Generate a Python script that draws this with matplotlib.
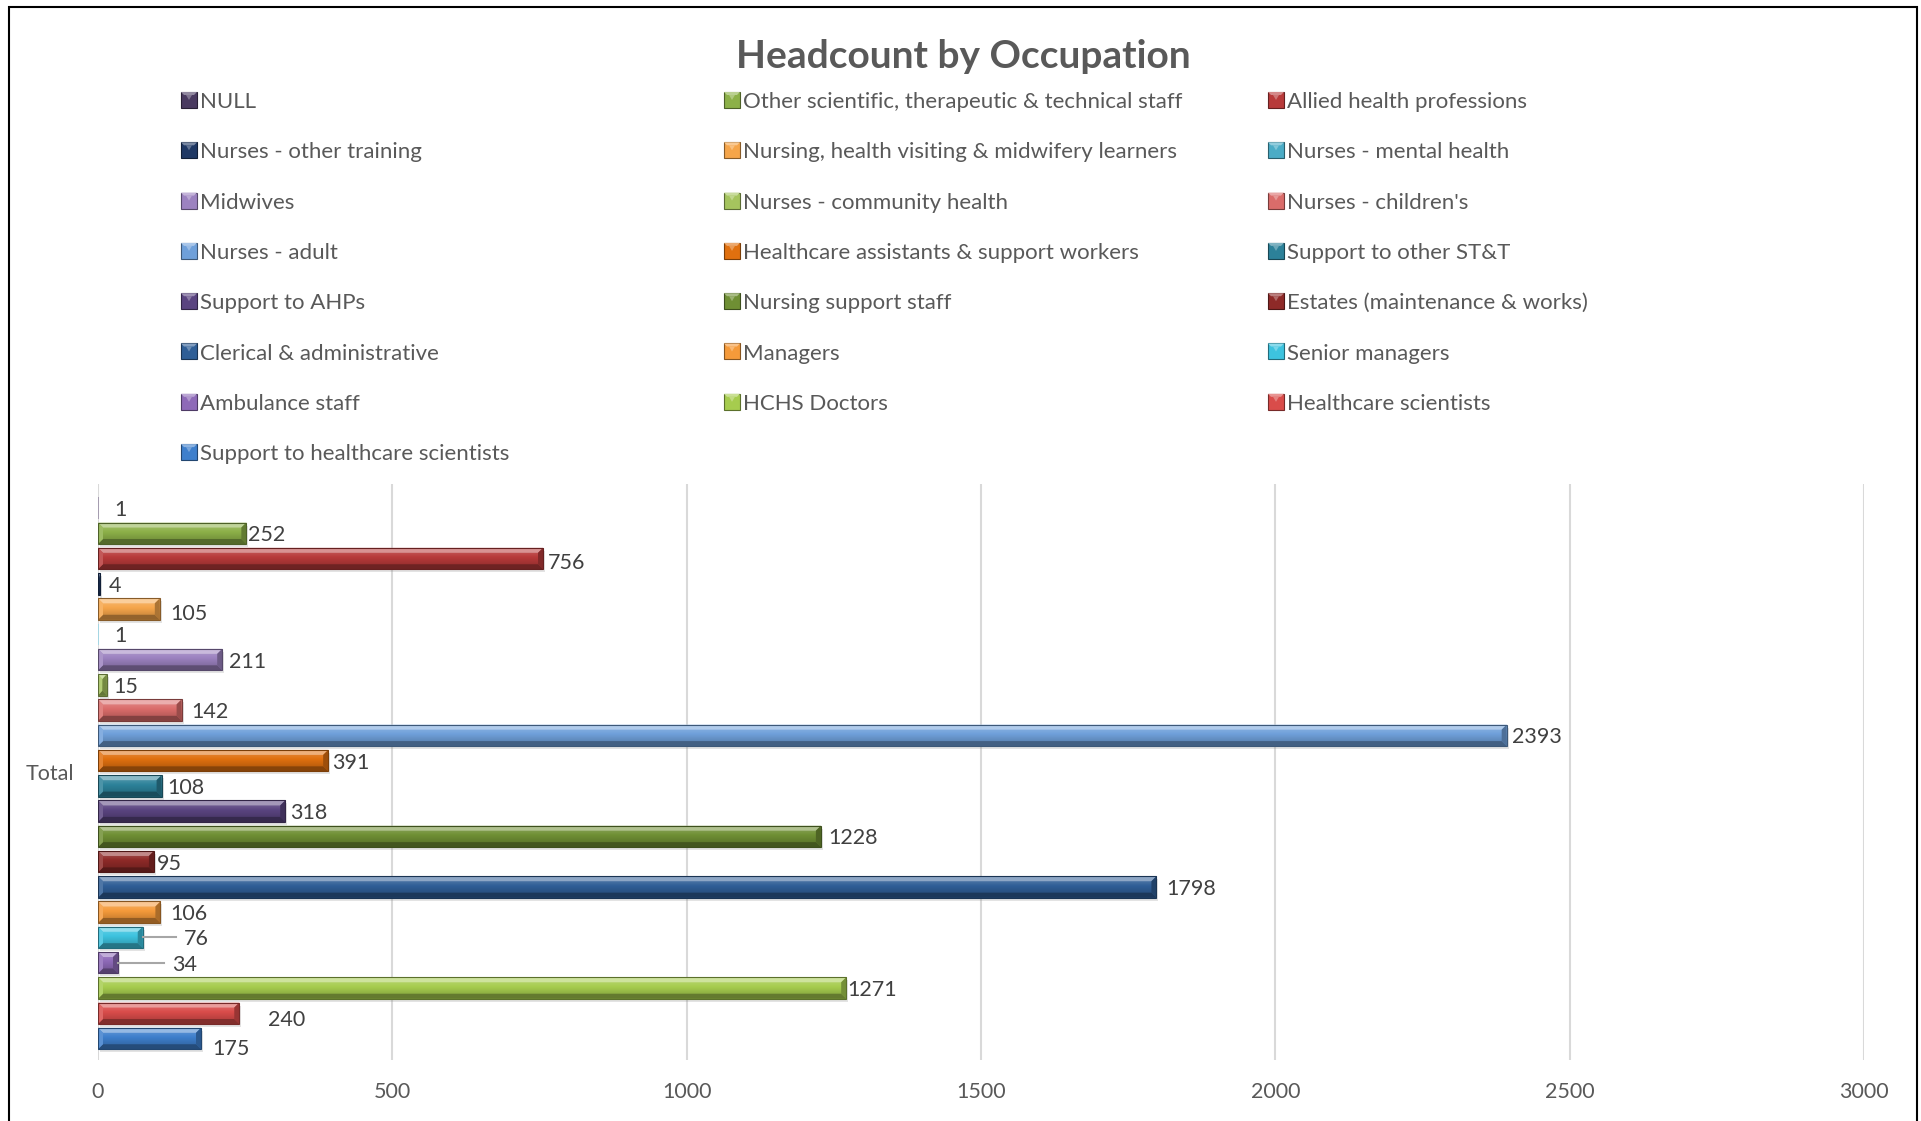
import numpy as np
import matplotlib
matplotlib.use("Agg")
import matplotlib.pyplot as plt
from matplotlib.patches import Rectangle, Polygon
from matplotlib import colors as mcolors

plt.rcParams['font.family'] = ['Lato', 'DejaVu Sans']

## donnees
occupations = [
    "NULL", "Other scientific, therapeutic & technical staff", "Allied health professions",
    "Nurses - other training", "Nursing, health visiting & midwifery learners", "Nurses - mental health",
    "Midwives", "Nurses - community health", "Nurses - children's",
    "Nurses - adult", "Healthcare assistants & support workers", "Support to other ST&T",
    "Support to AHPs", "Nursing support staff", "Estates (maintenance & works)",
    "Clerical & administrative", "Managers", "Senior managers",
    "Ambulance staff", "HCHS Doctors", "Healthcare scientists",
    "Support to healthcare scientists",
]
headcount = [1, 252, 756, 4, 105, 1, 211, 15, 142, 2393, 391, 108, 318,
             1228, 95, 1798, 106, 76, 34, 1271, 240, 175]
bar_colours = [
    "#4a3a60", "#8cb048", "#b83a3a",
    "#1f3864", "#f5a54a", "#4bacc6",
    "#9c82c0", "#a5c45e", "#da6c6a",
    "#6fa0da", "#e0700f", "#2c8199",
    "#5a4480", "#6f8f34", "#8e2a28",
    "#2f5e96", "#f59a3a", "#3dc3df",
    "#8e6ab8", "#a6cc4e", "#d94c4a",
    "#3e7fcc",
]
category = "Total"
x_ticks = [0, 500, 1000, 1500, 2000, 2500, 3000]

# decalage des etiquettes de valeur (pixels, vers la droite / vers le bas)
label_dx = [16, 2, 5, 8, 10, 16, 7, 6, 10, 5, 4, 6, 5, 7, 3, 10, 10, 41, 54, 1, 29, 11]
label_dy = [0, 0, 2, 0, 3, 0, 0, 0, 0, 0, 0, 0, 0, 0, 0, 0, 0, 0, 0, 0, 5, 8]
leader = [i in (17, 18) for i in range(len(headcount))]

W, H = 1921, 1121
TXT = "#595959"


def mix(c, t, w):
    c = mcolors.to_rgb(c)
    return tuple((1 - w) * a + w * b for a, b in zip(c, t))


fig = plt.figure(figsize=(W / 100, H / 100), dpi=100)
ax = fig.add_axes([98 / W, 1 - 1060 / H, 1766 / W, 576 / H])

ymin, ymax = -0.95, 21.85
xmax = 3000
px_x = xmax / 1766.0
px_y = (ymax - ymin) / 576.0

ypos = np.arange(len(headcount))
bars = ax.barh(ypos, headcount, height=0.85, color=bar_colours, linewidth=0, zorder=3)

# effet biseau sur chaque barre
for rect, col in zip(bars, bar_colours):
    x0 = rect.get_x()
    x1 = x0 + rect.get_width()
    yt = rect.get_y()
    yb = yt + rect.get_height()
    if (x1 - x0) / px_x < 2:
        # barre trop fine : juste un trait pale
        rect.set_color(mix(col, (1, 1, 1), 0.5))
        continue
    # ombre
    ax.add_patch(Rectangle((x0 + 2 * px_x, yt + 3 * px_y), rect.get_width(), rect.get_height(),
                           color="#808080", alpha=0.22, lw=0, zorder=2))
    # degrade de la face
    n = 40
    t = np.linspace(0, 1, n)
    top = np.array(mix(col, (1, 1, 1), 0.25))
    mid = np.array(mcolors.to_rgb(col))
    bot = np.array(mix(col, (0, 0, 0), 0.25))
    grad = np.zeros((n, 1, 3))
    for k, tk in enumerate(t):
        if tk < 0.45:
            grad[k, 0] = top + (mid - top) * tk / 0.45
        else:
            grad[k, 0] = mid + (bot - mid) * (tk - 0.45) / 0.55
    im = ax.imshow(grad, extent=(x0, x1, yb, yt), origin="upper", aspect="auto",
                   interpolation="bilinear", zorder=4)
    im.set_clip_path(rect)
    bx = min(5 * px_x, (x1 - x0) / 2)
    by = 5 * px_y
    bevels = [
        ([(x0, yt), (x1, yt), (x1 - bx, yt + by), (x0 + bx, yt + by)], mix(col, (1, 1, 1), 0.45)),
        ([(x0, yb), (x1, yb), (x1 - bx, yb - by), (x0 + bx, yb - by)], mix(col, (0, 0, 0), 0.4)),
        ([(x0, yt), (x0 + bx, yt + by), (x0 + bx, yb - by), (x0, yb)], mix(col, (1, 1, 1), 0.15)),
        ([(x1, yt), (x1 - bx, yt + by), (x1 - bx, yb - by), (x1, yb)], mix(col, (0, 0, 0), 0.3)),
    ]
    for pts, c in bevels:
        ax.add_patch(Polygon(pts, closed=True, color=c, lw=0, zorder=5))
    ax.add_patch(Rectangle((x0, yt), x1 - x0, yb - yt, fill=False,
                           edgecolor=mix(col, (0, 0, 0), 0.45), lw=0.8, zorder=6))

# etiquettes de valeur
for i, v in enumerate(headcount):
    ax.annotate(str(v), xy=(v, ypos[i]), xytext=(label_dx[i], -label_dy[i] - 2),
                textcoords="offset pixels", ha="left", va="center",
                fontsize=15.5, color="#404040", zorder=7)
    if leader[i]:
        ax.plot([v, v + (label_dx[i] - 8) * px_x], [ypos[i], ypos[i]],
                color="#a6a6a6", lw=1.5, zorder=6)

ax.set_xlim(0, xmax)
ax.set_ylim(ymax, ymin)
ax.set_xticks(x_ticks)
ax.set_xticklabels([str(x) for x in x_ticks])
ax.set_yticks([(ymin + ymax) / 2])
ax.set_yticklabels([category])
ax.tick_params(axis="x", length=0, pad=16, labelsize=15.5, labelcolor=TXT)
ax.tick_params(axis="y", length=0, pad=17, labelsize=15.5, labelcolor=TXT)
ax.grid(axis="x", color="#d9d9d9", lw=1.5)
ax.set_axisbelow(True)
for s in ax.spines.values():
    s.set_visible(False)

# titre
fig.text(963 / W, 1 - 56 / H, "Headcount by Occupation", ha="center", va="center",
         fontsize=28, fontweight="bold", color=TXT)

# legende (3 colonnes, remplie ligne par ligne)
col_x = [181, 724, 1268]
for i, (name, col) in enumerate(zip(occupations, bar_colours)):
    r, c = divmod(i, 3)
    xm = col_x[c]
    yc = 100 + 50.3 * r
    s = 16
    x0, y0 = xm / W, 1 - (yc + s / 2) / H
    fw, fh = s / W, s / H
    fig.add_artist(Rectangle((x0, y0), fw, fh, transform=fig.transFigure,
                             facecolor=col, edgecolor=mix(col, (0, 0, 0), 0.45), lw=0.8))
    bw, bh = 3 / W, 3 / H
    fig.add_artist(Polygon([(x0, y0 + fh), (x0 + fw, y0 + fh), (x0 + fw - bw, y0 + fh - bh),
                            (x0 + bw, y0 + fh - bh)], closed=True, transform=fig.transFigure,
                           color=mix(col, (1, 1, 1), 0.4), lw=0))
    fig.add_artist(Polygon([(x0 + fw / 2 - 3 / W, y0 + fh - bh), (x0 + fw / 2 + 3 / W, y0 + fh - bh),
                            (x0 + fw / 2, y0 + fh / 2)], closed=True, transform=fig.transFigure,
                           color=mix(col, (1, 1, 1), 0.3), lw=0))
    fig.text((xm + 19) / W, 1 - (yc + 2) / H, name, ha="left", va="center",
             fontsize=16, color=TXT)

# cadre
fig.add_artist(Rectangle((8.5 / W, -0.02), (1916.5 - 8.5) / W, 1 - 6.5 / H + 0.02,
                         transform=fig.transFigure, fill=False, edgecolor="black", lw=1.5))

fig.savefig("out.png", dpi=100)
